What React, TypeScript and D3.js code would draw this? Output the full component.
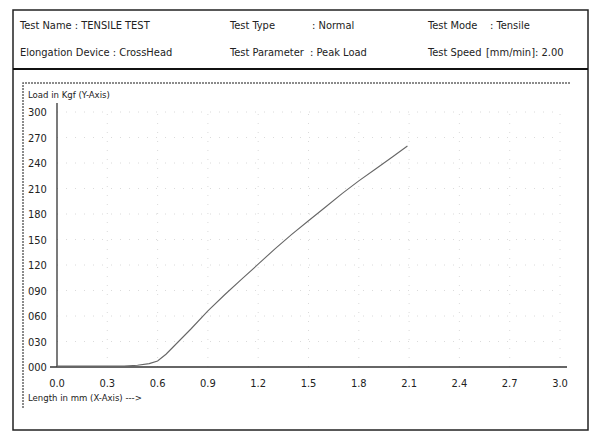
import React, { useEffect, useRef } from "react";
import * as d3 from "d3";

// elongation (mm) and load (kgf)
const lengthMm = [0, 0.1, 0.2, 0.3, 0.4, 0.48, 0.55, 0.6, 0.65, 0.7, 0.8, 0.9, 1.0, 1.1, 1.2, 1.3, 1.4, 1.5, 1.6, 1.7, 1.8, 1.9, 2.0, 2.09];
const loadKgf = [1, 1, 1, 1, 1, 2, 4, 7, 15, 25, 45, 66, 85, 103, 121, 139, 156, 172, 188, 204, 219, 233, 247, 260];

const xTicks = [0, 0.3, 0.6, 0.9, 1.2, 1.5, 1.8, 2.1, 2.4, 2.7, 3.0];
const yTicks = [0, 30, 60, 90, 120, 150, 180, 210, 240, 270, 300];
const yTickLabels = ["000", "030", "060", "090", "120", "150", "180", "210", "240", "270", "300"];

const headerRow1 = [
  { x: 20, text: "Test Name : TENSILE TEST" },
  { x: 230, text: "Test Type" },
  { x: 312, text: ": Normal" },
  { x: 428, text: "Test Mode" },
  { x: 490, text: ": Tensile" },
];
const headerRow2 = [
  { x: 20, text: "Elongation Device : CrossHead" },
  { x: 230, text: "Test Parameter" },
  { x: 310, text: ": Peak Load" },
  { x: 428, text: "Test Speed" },
  { x: 486, text: "[mm/min]: 2.00" },
];

const W = 590;
const H = 432;
const FONT = "'DejaVu Sans Condensed', 'DejaVu Sans', sans-serif";

const App = () => {
  const ref = useRef<SVGSVGElement>(null);

  useEffect(() => {
    const svg = d3.select(ref.current);
    svg.selectAll("*").remove();

    const x = d3.scaleLinear().domain([0, 3]).range([57, 560]);
    const y = d3.scaleLinear().domain([0, 300]).range([367, 112]);

    svg.append("rect").attr("width", W).attr("height", H).attr("fill", "#fff");

    // outer frame + header separator
    svg
      .append("rect")
      .attr("x", 13)
      .attr("y", 10)
      .attr("width", 575)
      .attr("height", 420)
      .attr("fill", "none")
      .attr("stroke", "#222")
      .attr("stroke-width", 1.5);
    svg
      .append("line")
      .attr("x1", 13)
      .attr("x2", 588)
      .attr("y1", 69)
      .attr("y2", 69)
      .attr("stroke", "#111")
      .attr("stroke-width", 2);

    // header text
    const hdr = svg.append("g").style("font-family", FONT).style("font-size", "11px").attr("fill", "#222");
    headerRow1.forEach((d) => hdr.append("text").attr("x", d.x).attr("y", 29).text(d.text));
    headerRow2.forEach((d) => hdr.append("text").attr("x", d.x).attr("y", 56).text(d.text));

    // inner dotted frame
    svg
      .append("path")
      .attr("d", "M23,408 L23,83 L570,83")
      .attr("fill", "none")
      .attr("stroke", "#666")
      .attr("stroke-width", 1.5)
      .attr("stroke-dasharray", "2 1");

    // faint dotted grid
    const grid = svg.append("g").attr("stroke", "#c4c4c4").attr("stroke-width", 1).attr("stroke-dasharray", "1 8").attr("opacity", 0.6);
    grid
      .selectAll("line.h")
      .data(yTicks.slice(1))
      .enter()
      .append("line")
      .attr("x1", x(0))
      .attr("x2", x(3))
      .attr("y1", (d) => y(d))
      .attr("y2", (d) => y(d));
    grid
      .selectAll("line.v")
      .data(xTicks.slice(1))
      .enter()
      .append("line")
      .attr("x1", (d) => x(d))
      .attr("x2", (d) => x(d))
      .attr("y1", y(0))
      .attr("y2", y(300));

    // axes
    svg
      .append("line")
      .attr("x1", x(0))
      .attr("x2", x(0))
      .attr("y1", 103)
      .attr("y2", y(0))
      .attr("stroke", "#333")
      .attr("stroke-width", 1.3);
    svg
      .append("line")
      .attr("x1", 50)
      .attr("x2", 567)
      .attr("y1", y(0))
      .attr("y2", y(0))
      .attr("stroke", "#333")
      .attr("stroke-width", 1.6);

    const labels = svg.append("g").style("font-family", FONT).style("font-size", "11px").attr("fill", "#222");
    labels
      .selectAll("text.y")
      .data(yTicks)
      .enter()
      .append("text")
      .attr("x", 28)
      .attr("y", (d) => y(d) + 4)
      .text((d, i) => yTickLabels[i]);
    labels
      .selectAll("text.x")
      .data(xTicks)
      .enter()
      .append("text")
      .attr("x", (d) => x(d))
      .attr("y", 387)
      .attr("text-anchor", "middle")
      .text((d) => d.toFixed(1));

    const titles = svg.append("g").style("font-family", FONT).style("font-size", "9.5px").attr("fill", "#222");
    titles.append("text").attr("x", 28).attr("y", 98).text("Load in Kgf (Y-Axis)");
    titles.append("text").attr("x", 28).attr("y", 401).text("Length in mm (X-Axis) --->");

    // load curve
    const line = d3
      .line<number>()
      .x((d, i) => x(lengthMm[i]))
      .y((d) => y(d));
    svg
      .append("path")
      .datum(loadKgf)
      .attr("d", line)
      .attr("fill", "none")
      .attr("stroke", "#666")
      .attr("stroke-width", 1.1);
  }, []);

  return <svg ref={ref} width={W} height={H} style={{ position: "absolute", left: 0, top: 0 }} />;
};

export default App;
